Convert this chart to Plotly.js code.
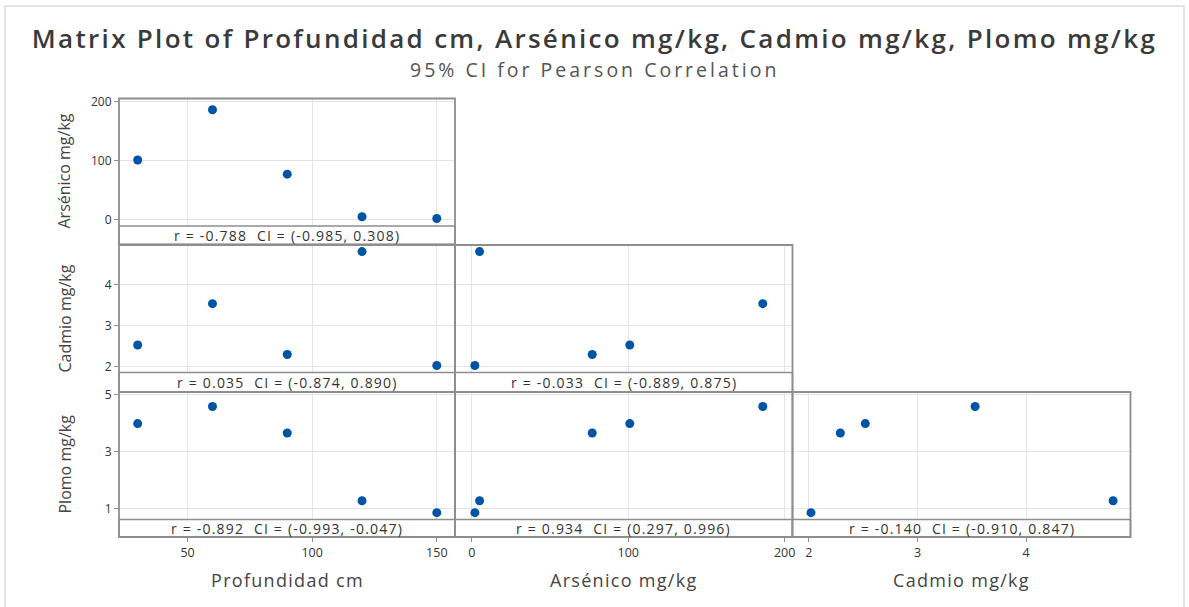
<!DOCTYPE html>
<html>
<head>
<meta charset="utf-8">
<script src="https://cdn.plot.ly/plotly-3.0.1.min.js"></script>
<style>html,body{margin:0;padding:0;background:#fff;}</style>
</head>
<body>
<div id="chart" style="width:1189px;height:607px;"></div>
<script>
// ---- data ----
const profundidad = [30, 60, 90, 120, 150];
const arsenico = [101, 186, 77, 5, 2];
const cadmio = [2.52, 3.53, 2.29, 4.80, 2.02];
const plomo = [3.98, 4.58, 3.65, 1.27, 0.85];
const varNames = ['Profundidad cm', 'Arsénico mg/kg', 'Cadmio mg/kg', 'Plomo mg/kg'];
// correlation labels per row (y var) / column (x var)
const rValues = [[-0.788], [0.035, -0.033], [-0.892, 0.934, -0.140]];
const ciLower = [[-0.985], [-0.874, -0.889], [-0.993, 0.297, -0.910]];
const ciUpper = [[0.308], [0.890, 0.875], [-0.047, 0.996, 0.847]];
const titleText = 'Matrix Plot of Profundidad cm, Arsénico mg/kg, Cadmio mg/kg, Plomo mg/kg';
const subtitleText = '95% CI for Pearson Correlation';

// ---- layout geometry (pixels) ----
const W = 1189, H = 607;
const fx = x => x / W;
const fy = y => 1 - y / H;
const colEdges = [119, 455, 792.5, 1130.5];
const dataTop = [98.5, 245, 392];
const dataBottom = [226, 372.5, 519.5];
const stripBottom = [244.5, 392, 537];
const axisRanges = [[22.5, 157.3], [-10.7, 205], [1.85, 4.96], [0.61, 5.09]];
const axisDtick = [50, 100, 1, 2];
const axisTick0 = [0, 0, 0, 1];

const vars = [profundidad, arsenico, cadmio, plomo];
const FONT = 'Open Sans, Noto Sans, sans-serif';
const BORDER = '#8e8e8e';
const GRID = '#e4e4e4';
const MARK = '#0054a6';
const spaced = (t, px) => '<span style="letter-spacing:' + px + 'px">' + t + '</span>';

const traces = [];
const layout = {
  width: W, height: H,
  margin: {l: 0, r: 0, t: 0, b: 0},
  paper_bgcolor: '#fff', plot_bgcolor: 'rgba(0,0,0,0)',
  showlegend: false,
  font: {family: FONT, color: '#333'},
  title: {text: spaced(titleText, 2.3), x: 0.5, xanchor: 'center', y: 1 - 38.5 / H, yanchor: 'middle',
          font: {family: FONT, size: 26, weight: 600, color: '#3a3a3a'}},
  shapes: [], annotations: []
};

// x axes (one per column)
for (let c = 0; c < 3; c++) {
  const key = c === 0 ? 'xaxis' : 'xaxis' + (c + 1);
  layout[key] = {
    domain: [fx(colEdges[c]), fx(colEdges[c + 1])],
    range: axisRanges[c], dtick: axisDtick[c], tick0: axisTick0[c],
    anchor: 'free', position: fy(stripBottom[2]),
    showgrid: true, gridcolor: GRID, gridwidth: 1, zeroline: false, showline: false,
    ticks: 'outside', ticklen: 4, tickcolor: BORDER, tickwidth: 1,
    tickfont: {family: FONT, size: 12.5, color: '#333'}, fixedrange: true
  };
}
// y axes (one per row)
for (let r = 0; r < 3; r++) {
  const key = r === 0 ? 'yaxis' : 'yaxis' + (r + 1);
  layout[key] = {
    domain: [fy(dataBottom[r]), fy(dataTop[r])],
    range: axisRanges[r + 1], dtick: axisDtick[r + 1], tick0: axisTick0[r + 1],
    anchor: 'x',
    showgrid: true, gridcolor: GRID, gridwidth: 1, zeroline: false, showline: false,
    ticks: 'outside', ticklen: 4, tickcolor: BORDER, tickwidth: 1,
    tickfont: {family: FONT, size: 12, color: '#333'}, fixedrange: true
  };
}

// panels
for (let r = 0; r < 3; r++) {
  for (let c = 0; c <= r; c++) {
    traces.push({
      type: 'scatter', mode: 'markers',
      x: vars[c], y: vars[r + 1],
      xaxis: c === 0 ? 'x' : 'x' + (c + 1),
      yaxis: r === 0 ? 'y' : 'y' + (r + 1),
      marker: {color: MARK, size: 9},
      cliponaxis: false, hoverinfo: 'skip'
    });
    // strip
    layout.shapes.push({type: 'rect', xref: 'paper', yref: 'paper',
      x0: fx(colEdges[c]), x1: fx(colEdges[c + 1]), y0: fy(stripBottom[r]), y1: fy(dataBottom[r]),
      fillcolor: '#fff', line: {color: BORDER, width: 1.5}, layer: 'above'});
    // panel border
    layout.shapes.push({type: 'rect', xref: 'paper', yref: 'paper',
      x0: fx(colEdges[c]), x1: fx(colEdges[c + 1]), y0: fy(stripBottom[r]), y1: fy(dataTop[r]),
      line: {color: BORDER, width: 1.8}, layer: 'above'});
    const txt = 'r = ' + rValues[r][c].toFixed(3) + ' &nbsp;CI = (' + ciLower[r][c].toFixed(3) + ', ' + ciUpper[r][c].toFixed(3) + ')';
    layout.annotations.push({xref: 'paper', yref: 'paper',
      x: fx((colEdges[c] + colEdges[c + 1]) / 2), y: fy((dataBottom[r] + stripBottom[r]) / 2),
      xanchor: 'center', yanchor: 'middle', showarrow: false, text: spaced(txt, 1.2),
      font: {family: FONT, size: 14, color: '#333'}});
  }
}

// axis titles
for (let c = 0; c < 3; c++) {
  layout.annotations.push({xref: 'paper', yref: 'paper',
    x: fx((colEdges[c] + colEdges[c + 1]) / 2), y: fy(580),
    xanchor: 'center', yanchor: 'middle', showarrow: false, text: spaced(varNames[c], 1.3),
    font: {family: FONT, size: 18, color: '#444'}});
}
for (let r = 0; r < 3; r++) {
  layout.annotations.push({xref: 'paper', yref: 'paper',
    x: fx(64), y: fy((dataTop[r] + stripBottom[r]) / 2),
    xanchor: 'center', yanchor: 'middle', showarrow: false, text: varNames[r + 1],
    textangle: -90, font: {family: FONT, size: 16, color: '#444'}});
}
// subtitle
layout.annotations.push({xref: 'paper', yref: 'paper', x: 0.5, y: fy(69),
  xanchor: 'center', yanchor: 'middle', showarrow: false, text: spaced(subtitleText, 3),
  font: {family: FONT, size: 19.5, color: '#555'}});

// outer frame
layout.shapes.push({type: 'rect', xref: 'paper', yref: 'paper',
  x0: fx(5), x1: fx(1184), y0: fy(610), y1: fy(6),
  line: {color: '#dcdcdc', width: 1.5}, layer: 'below'});

Plotly.newPlot('chart', traces, layout, {displayModeBar: false, staticPlot: true});
</script>
</body>
</html>
